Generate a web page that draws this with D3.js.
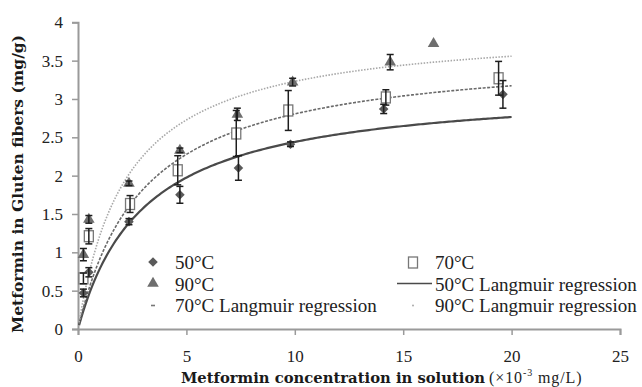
<!DOCTYPE html>
<html>
<head>
<meta charset="utf-8">
<script src="https://cdn.jsdelivr.net/npm/d3@7"></script>
<style>
  html, body { margin: 0; padding: 0; background: #fff; }
  svg { display: block; }
</style>
</head>
<body>
<svg id="chart" width="642" height="387"></svg>
<script>
// Equilibrium concentration (x10^-3 mg/L) and uptake (mg/g) for each temperature
const conc50 = [0.25, 0.5, 2.35, 4.7, 7.4, 9.8, 14.1, 19.6];
const q50    = [0.47, 0.74, 1.40, 1.75, 2.10, 2.41, 2.87, 3.06];
const err50  = [0.05, 0.06, 0.04, 0.11, 0.16, 0.03, 0.06, 0.18];

const conc70 = [0.25, 0.5, 2.4, 4.6, 7.3, 9.7, 14.2, 19.4];
const q70    = [0.66, 1.21, 1.63, 2.07, 2.55, 2.85, 3.02, 3.27];
const err70  = [0.07, 0.10, 0.11, 0.19, 0.30, 0.26, 0.10, 0.22];

const conc90 = [0.25, 0.5, 2.35, 4.7, 7.35, 9.9, 14.4, 16.4];
const q90    = [0.97, 1.43, 1.90, 2.33, 2.80, 3.22, 3.48, 3.72];
const err90  = [0.08, 0.05, 0.03, 0.03, 0.08, 0.05, 0.10, 0.00];

// Langmuir fits: q = qmax * K * C / (1 + K * C)
const langmuirQmax = [3.19, 3.65, 3.96];   // 50, 70, 90 °C
const langmuirK    = [0.325, 0.332, 0.442];
const fitRange     = [0.05, 20];

const xTicks = [0, 5, 10, 15, 20, 25];
const yTicks = [0, 0.5, 1, 1.5, 2, 2.5, 3, 3.5, 4];

const svg = d3.select("#chart");
const x = d3.scaleLinear().domain([0, 25]).range([78, 620]);
const y = d3.scaleLinear().domain([0, 4]).range([329, 22.3]);

const axisColor = "#9a9a9a";
const serif = "'Liberation Serif', 'Times New Roman', serif";

// axes
const xAxis = svg.append("g").attr("transform", `translate(0,${y(0)})`)
  .call(d3.axisBottom(x).tickValues(xTicks).tickSize(6).tickPadding(15).tickFormat(d3.format("d")));
const yAxis = svg.append("g").attr("transform", `translate(${x(0)},0)`)
  .call(d3.axisLeft(y).tickValues(yTicks).tickSize(6).tickPadding(9).tickFormat(d => String(d)));
[xAxis, yAxis].forEach(g => {
  g.attr("font-family", serif).attr("font-size", 17);
  g.select(".domain").attr("stroke", axisColor).attr("stroke-width", 2);
  g.selectAll(".tick line").attr("stroke", axisColor).attr("stroke-width", 1.5);
  g.selectAll(".tick text").attr("fill", "#222");
});

// Langmuir regression curves
const curveStyles = [
  { stroke: "#4a4a4a", width: 2.2, dash: null },
  { stroke: "#6a6a6a", width: 1.6, dash: "3,1.5" },
  { stroke: "#a8a8a8", width: 1.6, dash: "1.5,1.5" }
];
const line = d3.line().x(d => x(d[0])).y(d => y(d[1]));
langmuirQmax.forEach((qm, i) => {
  const K = langmuirK[i];
  const pts = d3.range(0, 201).map(k => {
    const c = fitRange[0] + (fitRange[1] - fitRange[0]) * k / 200;
    return [c, qm * K * c / (1 + K * c)];
  });
  const st = curveStyles[i];
  svg.append("path").datum(pts).attr("d", line)
    .attr("fill", "none").attr("stroke", st.stroke)
    .attr("stroke-width", st.width)
    .attr("stroke-dasharray", st.dash);
});

// markers
const diamond = d3.symbol().type(d3.symbolSquare).size(46)();
const triangle = d3.symbol().type(d3.symbolTriangle).size(58)();

function drawSeries(cs, qs, kind) {
  const g = svg.append("g");
  cs.forEach((c, i) => {
    const cx = x(c), cy = y(qs[i]);
    if (kind === "diamond") {
      g.append("path").attr("d", diamond)
        .attr("transform", `translate(${cx},${cy}) rotate(45)`)
        .attr("fill", "#5a5a5a");
    } else if (kind === "triangle") {
      g.append("path").attr("d", triangle)
        .attr("transform", `translate(${cx},${cy})`)
        .attr("fill", "#6e6e6e");
    } else {
      g.append("rect").attr("x", cx - 4.5).attr("y", cy - 5.5)
        .attr("width", 9).attr("height", 11)
        .attr("fill", "#fff").attr("stroke", "#777").attr("stroke-width", 1.3);
    }
  });
}
drawSeries(conc50, q50, "diamond");
drawSeries(conc90, q90, "triangle");
drawSeries(conc70, q70, "square");

// error bars
function drawErrors(cs, qs, es) {
  const g = svg.append("g").attr("stroke", "#1e1e1e").attr("stroke-width", 1.5);
  cs.forEach((c, i) => {
    if (!es[i]) return;
    const cx = x(c), y1 = y(qs[i] + es[i]), y2 = y(qs[i] - es[i]);
    g.append("line").attr("x1", cx).attr("x2", cx).attr("y1", y1).attr("y2", y2);
    g.append("line").attr("x1", cx - 3.5).attr("x2", cx + 3.5).attr("y1", y1).attr("y2", y1);
    g.append("line").attr("x1", cx - 3.5).attr("x2", cx + 3.5).attr("y1", y2).attr("y2", y2);
  });
}
drawErrors(conc50, q50, err50);
drawErrors(conc70, q70, err70);
drawErrors(conc90, q90, err90);

// legend
const legend = svg.append("g").attr("font-family", serif).attr("font-size", 19).attr("fill", "#222");
const rows = [269, 290.5, 311.5];
const lx1 = 153, tx1 = 175, lx2 = 413, tx2 = 435;
legend.append("path").attr("d", diamond).attr("transform", `translate(${lx1},${rows[0] - 7}) rotate(45)`).attr("fill", "#5a5a5a");
legend.append("text").attr("x", tx1).attr("y", rows[0]).text("50°C");
legend.append("path").attr("d", triangle).attr("transform", `translate(${lx1},${rows[1] - 7})`).attr("fill", "#6e6e6e");
legend.append("text").attr("x", tx1).attr("y", rows[1]).text("90°C");
legend.append("line").attr("x1", lx1 - 2).attr("x2", lx1 + 2).attr("y1", rows[2] - 6).attr("y2", rows[2] - 6)
  .attr("stroke", "#777").attr("stroke-width", 1.6);
legend.append("text").attr("x", tx1).attr("y", rows[2]).text("70°C Langmuir regression");

legend.append("rect").attr("x", lx2 - 4.5).attr("y", rows[0] - 12).attr("width", 9).attr("height", 11)
  .attr("fill", "#fff").attr("stroke", "#777").attr("stroke-width", 1.3);
legend.append("text").attr("x", tx2).attr("y", rows[0]).text("70°C");
legend.append("line").attr("x1", 397).attr("x2", 432).attr("y1", rows[1] - 7).attr("y2", rows[1] - 7)
  .attr("stroke", "#4a4a4a").attr("stroke-width", 1.6);
legend.append("text").attr("x", tx2).attr("y", rows[1]).text("50°C Langmuir regression");
legend.append("circle").attr("cx", lx2).attr("cy", rows[2] - 6).attr("r", 1)
  .attr("fill", "#aaa");
legend.append("text").attr("x", tx2).attr("y", rows[2]).text("90°C Langmuir regression");

// axis titles
const boldSerif = "'DejaVu Serif', 'Liberation Serif', serif";
svg.append("text").attr("x", 181).attr("y", 383)
  .attr("font-family", boldSerif).attr("font-weight", "bold").attr("font-size", 14)
  .attr("fill", "#1a1a1a")
  .attr("textLength", 304).attr("lengthAdjust", "spacingAndGlyphs")
  .text("Metformin concentration in solution");
const unit = svg.append("text").attr("x", 489).attr("y", 383)
  .attr("font-family", serif).attr("font-size", 16).attr("fill", "#222")
  .attr("letter-spacing", 0.9);
unit.append("tspan").text("(×10");
unit.append("tspan").attr("font-size", 10).attr("dy", -7).text("-3");
unit.append("tspan").attr("dy", 7).text(" mg/L)");

svg.append("text")
  .attr("transform", "translate(23,184) rotate(-90)")
  .attr("text-anchor", "middle")
  .attr("font-family", boldSerif).attr("font-weight", "bold").attr("font-size", 14)
  .attr("fill", "#1a1a1a")
  .attr("textLength", 298).attr("lengthAdjust", "spacingAndGlyphs")
  .text("Metformin in Gluten fibers (mg/g)");
</script>
</body>
</html>
